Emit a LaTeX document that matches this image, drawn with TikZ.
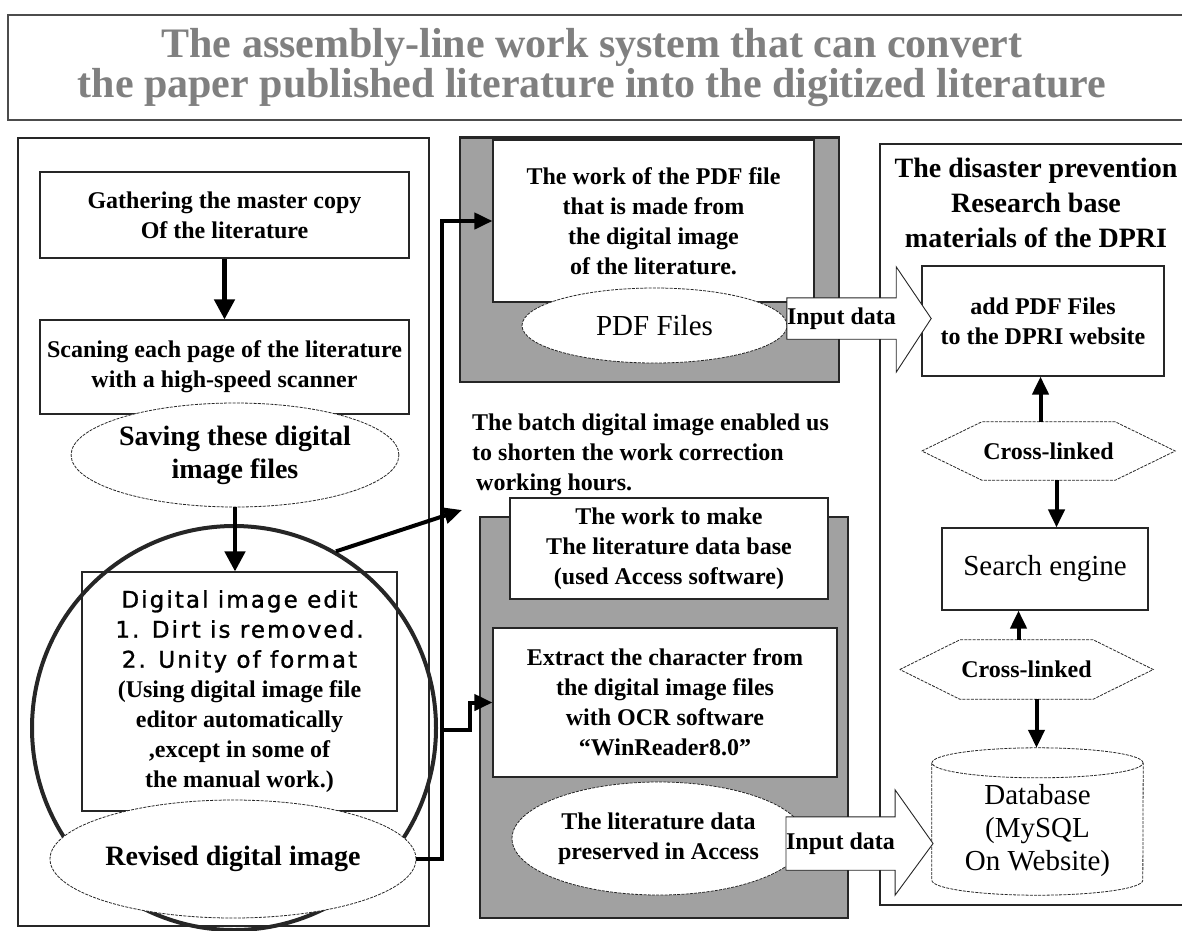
\documentclass[tikz,border=0pt]{standalone}
\usepackage{fontspec}
\setmainfont{Liberation Serif}
\newfontfamily\editsans[LetterSpace=9, FakeBold=1.2]{DejaVu Sans}
\usetikzlibrary{calc, positioning, shapes.geometric, arrows.meta}

% one line of the sans part in the edit box
\newcommand\editline[1]{{\editsans\mdseries\fontsize{23}{30}\selectfont #1}}

\begin{document}
\begin{tikzpicture}[x=1pt, y=-1pt,
  panel/.style={draw=black!85, line width=1.1pt},
  dotpanel/.style={panel, fill=black!37, inner sep=0pt},
  workbox/.style={draw=black!85, line width=1.1pt, fill=white, align=center,
    inner sep=0pt, font=\fontsize{24}{30}\selectfont\bfseries},
  bubble/.style={ellipse, draw=black!85, line width=0.8pt, dash pattern=on 3pt off 1.2pt,
    fill=white, inner sep=0pt, align=center},
  textonly/.style={align=center, inner sep=0pt, font=\fontsize{24}{30}\selectfont\bfseries},
  outline/.style={draw=black!85, line width=0.8pt, dash pattern=on 3pt off 1.2pt},
  flow/.style={line width=4.5pt, -{Triangle[length=20pt,width=20pt]}},
  link/.style={line width=4pt, -{Triangle[length=18pt,width=16pt]}},
]
\useasboundingbox (0,0) rectangle (1182,930);

% heading
\draw[line width=1.5pt, draw=black!70] (8,15) rectangle (1200,120);
\node[font=\fontsize{42}{40}\selectfont\bfseries, text=black!50, align=center, inner sep=0pt]
  (heading) at (592,68) {The assembly-line work system that can convert\\the paper published literature into the digitized literature};

% left column: scanning and editing
\draw[panel] (18,138) rectangle (429,926);
\node[workbox, minimum width=369pt, minimum height=86pt] (gather) at (224.5,215)
  {Gathering the master copy\\Of the literature};
\node[workbox, minimum width=369pt, minimum height=94pt] (scan) at (224.5,367)
  {Scaning each page of the literature\\with a high-speed scanner};
\node[bubble, minimum width=304pt, minimum height=104pt, font=\fontsize{28}{33}\selectfont\bfseries]
  (save) at (235,455) {Saving these digital\\image files};
\node[workbox, minimum width=315pt, minimum height=239pt] (edit) at (239.5,691.5)
  {\editline{Digital image edit}\\\editline{1. Dirt is removed.}\\\editline{2. Unity of format}\\
   (Using digital image file\\editor automatically\\,except in some of\\the manual work.)};
\node[circle, draw=black!85, line width=4pt, minimum size=404pt, inner sep=0pt] (ring) at (234,728) {};
\node[bubble, minimum width=366pt, minimum height=118pt, font=\fontsize{28}{33}\selectfont\bfseries]
  (revised) at (233,859) {Revised digital image};
\draw[flow] (gather) -- (scan);
\draw[flow] (save.south) -- (save.south |- edit.north);

% middle column: PDF work
\node[dotpanel, minimum width=379pt, minimum height=244pt] (pdfpanel) at (649.5,260) {};
\draw[line width=2.5pt, black!85] (pdfpanel.north west) -- (pdfpanel.north east);
\node[workbox, minimum width=321pt, minimum height=162pt] (pdfwork) at (653.5,221)
  {The work of the PDF file\\that is made from\\the digital image\\of the literature.};
\node[bubble, minimum width=265pt, minimum height=75pt, font=\fontsize{29}{33}\selectfont]
  (pdffiles) at (654.5,325.5) {PDF Files};

\node[textonly, align=left, anchor=north west] (batch) at (472,414)
  {The batch digital image enabled us\\to shorten the work correction\\\hspace{4pt}working hours.};

% middle column: database work
\node[dotpanel, minimum width=368pt, minimum height=401pt] (accpanel) at (664,717.5) {};
\node[workbox, minimum width=318pt, minimum height=101pt] (dbwork) at (669,548.5)
  {The work to make\\The literature data base\\(used Access software)};
\node[workbox, minimum width=344pt, minimum height=149pt] (ocr) at (665,702.5)
  {Extract the character from\\the digital image files\\with OCR software\\“WinReader8.0”};
\node[bubble, minimum width=293pt, minimum height=113pt, font=\fontsize{24}{30}\selectfont\bfseries]
  (access) at (658.5,838.5) {The literature data\\preserved in Access};

% right column: DPRI materials
\draw[panel] (880,144) rectangle (1200,905);
\node[textonly, font=\fontsize{28}{35}\selectfont\bfseries] (dpri) at (1036,203)
  {The disaster prevention\\Research base\\materials of the DPRI};
\node[workbox, minimum width=242pt, minimum height=110pt] (addpdf) at (1043,321)
  {add PDF Files\\to the DPRI website};
\node[textonly, minimum width=253pt, minimum height=58pt] (crossone) at (1048.5,451) {Cross-linked};
\node[workbox, minimum width=206pt, minimum height=82pt, font=\fontsize{29}{33}\selectfont]
  (search) at (1045,569) {Search engine};
\node[textonly, minimum width=253pt, minimum height=59pt] (crosstwo) at (1026.5,669.5) {Cross-linked};
\node[textonly, minimum width=211pt, minimum height=132pt, font=\fontsize{29}{33}\selectfont]
  (database) at (1037.5,831) {Database\\(MySQL\\On Website)};

% hexagons round the link labels
\foreach \hx in {crossone,crosstwo}
  \draw[outline] (\hx.west) -- ([xshift=60pt]\hx.north west) -- ([xshift=-60pt]\hx.north east)
    -- (\hx.east) -- ([xshift=-60pt]\hx.south east) -- ([xshift=60pt]\hx.south west) -- cycle;

% cylinder
\draw[outline] ([yshift=2pt]database.north) ellipse [x radius=105.5pt, y radius=15pt];
\draw[outline] ([yshift=2pt]database.north west) -- ([yshift=17pt]database.south west)
  arc[start angle=180, end angle=360, x radius=105.5pt, y radius=15pt] -- ([yshift=2pt]database.north east);
\coordinate (dbtop) at ([yshift=17pt]database.north);

% input arrows
\node[textonly, fill=white, minimum width=109pt, minimum height=41pt] (inputpdf) at (841.5,318.5) {Input data};
\node[textonly, fill=white, minimum width=107pt, minimum height=53pt] (inputdb) at (840.5,843.5) {Input data};
\fill[white] ([yshift=31pt]inputpdf.north east) -- ([xshift=35pt]inputpdf.east) -- ([yshift=-33pt]inputpdf.south east) -- cycle;
\draw[panel, line width=0.9pt] (inputpdf.south east) -- (inputpdf.south west) -- (inputpdf.north west) -- (inputpdf.north east)
  -- ([yshift=31pt]inputpdf.north east) -- ([xshift=35pt]inputpdf.east) -- ([yshift=-33pt]inputpdf.south east) -- cycle;
\fill[white] ([yshift=27pt]inputdb.north east) -- ([xshift=38pt]inputdb.east) -- ([yshift=-25pt]inputdb.south east) -- cycle;
\draw[panel, line width=0.9pt] (inputdb.south east) -- (inputdb.south west) -- (inputdb.north west) -- (inputdb.north east)
  -- ([yshift=27pt]inputdb.north east) -- ([xshift=38pt]inputdb.east) -- ([yshift=-25pt]inputdb.south east) -- cycle;

% links between the right column boxes
\path (crossone.north) ++(-8,0) coordinate (upone)
      (crossone.south) ++(8,0) coordinate (downone)
      (crosstwo.north) ++(-8,0) coordinate (uptwo)
      (crosstwo.south) ++(10,0) coordinate (downtwo);
\draw[link] (upone) -- (upone |- addpdf.south);
\draw[link] (downone) -- (downone |- search.north);
\draw[link] (uptwo) -- (uptwo |- search.south);
\draw[link] (downtwo) -- (downtwo |- dbtop);

% bus from the edited images to both work panels
\coordinate (batchfoot) at (462,510);
\coordinate (branch) at (443,730);
\draw[link] (ring.60) -- (batchfoot);
\draw[link] (revised.east) -- ++(26,0) |- (pdfwork.west);
\draw[link] (branch) -- ++(27,0) |- (ocr.west);
\end{tikzpicture}
\end{document}
